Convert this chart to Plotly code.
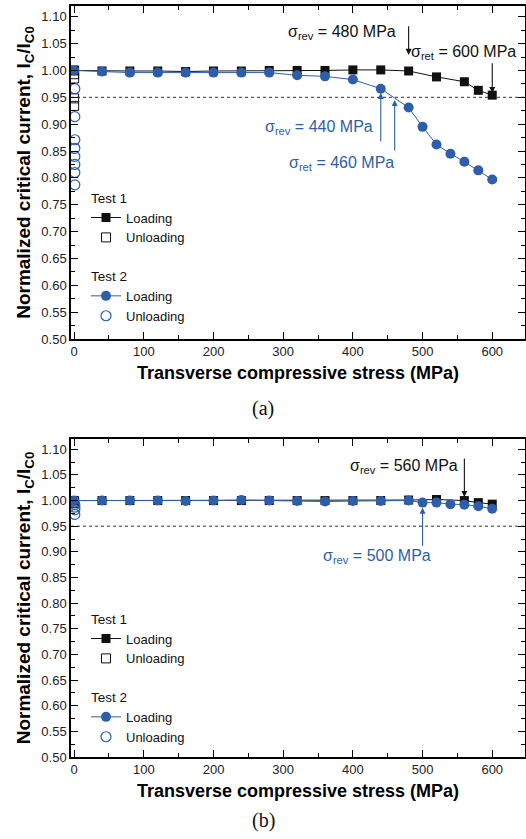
import plotly.graph_objects as go

# ---------------- data: panel (a) ----------------
a_t1_load_x = [0, 40, 80, 120, 160, 200, 240, 280, 320, 360, 400, 440, 480, 520, 560, 580, 600]
a_t1_load_y = [1.000, 0.999, 0.999, 0.999, 0.998, 0.999, 0.999, 1.000, 1.000, 1.000, 1.001, 1.001,
               0.999, 0.988, 0.979, 0.963, 0.954]
a_t1_unload_x = [0, 0, 0, 0, 0]
a_t1_unload_y = [1.000, 0.993, 0.985, 0.948, 0.934]

a_t2_load_x = [0, 40, 80, 120, 160, 200, 240, 280, 320, 360, 400, 440, 480, 500, 520, 540, 560, 580, 600]
a_t2_load_y = [1.000, 0.998, 0.996, 0.996, 0.996, 0.996, 0.996, 0.996, 0.991, 0.989, 0.983, 0.966,
               0.931, 0.895, 0.862, 0.845, 0.830, 0.814, 0.797]
a_t2_unload_x = [1, 1, 1, 1, 1, 1, 1, 1]
a_t2_unload_y = [0.966, 0.914, 0.871, 0.855, 0.840, 0.825, 0.810, 0.787]

# ---------------- data: panel (b) ----------------
b_t1_load_x = [0, 40, 80, 120, 160, 200, 240, 280, 320, 360, 400, 440, 480, 520, 560, 580, 600]
b_t1_load_y = [1.000, 1.000, 1.000, 1.000, 1.000, 1.000, 1.000, 1.000, 1.000, 1.000, 1.000, 1.000,
               1.001, 1.002, 1.000, 0.996, 0.993]
b_t1_unload_x = [0, 0]
b_t1_unload_y = [0.998, 0.995]

b_t2_load_x = [0, 40, 80, 120, 160, 200, 240, 280, 320, 360, 400, 440, 480, 500, 520, 540, 560, 580, 600]
b_t2_load_y = [1.000, 1.000, 1.000, 1.000, 0.999, 1.000, 1.001, 1.000, 0.999, 0.998, 0.999, 0.999,
               1.000, 0.996, 0.996, 0.993, 0.992, 0.989, 0.984]
b_t2_unload_x = [1, 1, 1, 1]
b_t2_unload_y = [0.992, 0.987, 0.982, 0.973]

# stress markers: (x, y at arrow head, y at arrow tail, kind, value, colour key)
markers_a = [
    (480, 1.029, 1.085, "rev", "480", "k"),
    (600, 0.958, 1.016, "ret", "600", "k"),
    (440, 0.958, 0.865, "rev", "440", "b"),
    (460, 0.945, 0.848, "ret", "460", "b"),
]
markers_b = [
    (560, 1.007, 1.085, "rev", "560", "k"),
    (500, 0.986, 0.909, "rev", "500", "b"),
]
# label anchors (x at right edge, y centre)
labels_a = [(465, 1.070), (637, 1.034), (432, 0.893), (462, 0.827)]
labels_b = [(554, 1.066), (515, 0.890)]

BLACK = "#111111"
BLUE = "#2E5EAA"
COL = {"k": BLACK, "b": BLUE}
FONT = "Liberation Sans, Arial, sans-serif"
W, H = 526, 839
ML, MR, MT, MB = 71, 1, 6, 82
PH = H - MT - MB          # plot-area height in px
PW = W - ML - MR          # plot-area width in px


def fy(py):
    """paper fraction for a pixel row"""
    return 1 - (py - MT) / PH


def fx(px):
    """paper fraction for a pixel column"""
    return (px - ML) / PW


fig = go.Figure()


def add_panel(ax, legend, t1x, t1y, t1ux, t1uy, t2x, t2y, t2ux, t2uy):
    xa = "x" if ax == 1 else f"x{ax}"
    ya = "y" if ax == 1 else f"y{ax}"
    common = dict(xaxis=xa, yaxis=ya, legend=legend)
    fig.add_trace(go.Scatter(x=t1x, y=t1y, mode="lines+markers", name="Loading",
                             legendgroup=f"t1{ax}", legendgrouptitle_text="Test 1",
                             line=dict(color=BLACK, width=1),
                             marker=dict(symbol="square", size=9, color=BLACK), **common))
    fig.add_trace(go.Scatter(x=t1ux, y=t1uy, mode="markers", name="Unloading",
                             legendgroup=f"t1{ax}",
                             marker=dict(symbol="square-open", size=9, color=BLACK,
                                         line=dict(width=1)), **common))
    fig.add_trace(go.Scatter(x=t2x, y=t2y, mode="lines+markers", name="Loading",
                             legendgroup=f"t2{ax}", legendgrouptitle_text="Test 2",
                             line=dict(color=BLUE, width=1),
                             marker=dict(symbol="circle", size=10, color=BLUE), **common))
    fig.add_trace(go.Scatter(x=t2ux, y=t2uy, mode="markers", name="Unloading",
                             legendgroup=f"t2{ax}",
                             marker=dict(symbol="circle-open", size=10, color=BLUE,
                                         line=dict(width=1.2)), **common))


add_panel(1, "legend", a_t1_load_x, a_t1_load_y, a_t1_unload_x, a_t1_unload_y,
          a_t2_load_x, a_t2_load_y, a_t2_unload_x, a_t2_unload_y)
add_panel(2, "legend2", b_t1_load_x, b_t1_load_y, b_t1_unload_x, b_t1_unload_y,
          b_t2_load_x, b_t2_load_y, b_t2_unload_x, b_t2_unload_y)

annotations = []
shapes = []
for ax, marks, labels in ((1, markers_a, labels_a), (2, markers_b, labels_b)):
    xr = "x" if ax == 1 else f"x{ax}"
    yr = "y" if ax == 1 else f"y{ax}"
    for (xv, yh, yt, kind, val, ck), (lx, ly) in zip(marks, labels):
        c = COL[ck]
        annotations.append(dict(x=xv, y=yh, ax=xv, ay=yt, xref=xr, yref=yr, axref=xr, ayref=yr,
                                text="", showarrow=True, arrowhead=2, arrowsize=1.1,
                                arrowwidth=1.1, arrowcolor=c))
        annotations.append(dict(x=lx, y=ly, xref=xr, yref=yr, xanchor="right", yanchor="middle",
                                text=f"σ<sub>{kind}</sub> = {val} MPa", showarrow=False,
                                font=dict(family=FONT, size=16, color=c)))
    # 95 % retention reference line
    shapes.append(dict(type="line", xref=f"{xr} domain", yref=yr, x0=0, x1=1, y0=0.95, y1=0.95,
                       line=dict(color="#333333", width=1, dash="dot"), layer="below"))

serif = dict(family="Liberation Serif, Times New Roman, serif", size=20, color="#111")
for cap, py in (("(a)", 408), ("(b)", 820)):
    annotations.append(dict(x=fx(263), y=fy(py), xref="paper", yref="paper", text=cap,
                            xanchor="center", yanchor="middle", showarrow=False, font=serif))

y_dom_a = [fy(339), 1]
y_dom_b = [0, fy(439)]

tickfont = dict(family=FONT, size=13, color="#222")
titlefont = dict(family=FONT, size=18, color="#000", weight="bold")


def xaxis(anchor):
    return dict(domain=[0, 1], anchor=anchor, range=[-4.5, 647], tickvals=[0, 100, 200, 300, 400, 500, 600],
                showline=True, linecolor="#000", linewidth=1.5, mirror="ticks", ticks="inside",
                ticklen=7, tickwidth=1.2, tickcolor="#000", tickfont=tickfont, showgrid=False,
                zeroline=False, automargin=False,
                minor=dict(dtick=50, tick0=0, ticks="inside", ticklen=4, tickwidth=1, tickcolor="#000"),
                title=dict(text="Transverse compressive stress (MPa)", font=titlefont, standoff=8))


def yaxis(anchor, dom):
    return dict(domain=dom, anchor=anchor, range=[0.5, 1.12], tick0=0.5, dtick=0.05, tickformat=".2f",
                showline=True, linecolor="#000", linewidth=1.5, mirror="ticks", ticks="inside",
                ticklen=7, tickwidth=1.2, tickcolor="#000", tickfont=tickfont, showgrid=False,
                zeroline=False, automargin=False,
                minor=dict(dtick=0.025, tick0=0.5, ticks="inside", ticklen=4, tickwidth=1, tickcolor="#000"),
                title=dict(text="Normalized critical current, I<sub>C</sub>/I<sub>C0</sub>",
                           font=dict(family=FONT, size=19, color="#000", weight="bold"), standoff=6))


legend_style = dict(font=dict(family=FONT, size=13, color="#111"), bgcolor="rgba(0,0,0,0)",
                    tracegroupgap=18, itemwidth=30, xanchor="left", yanchor="top",
                    grouptitlefont=dict(family=FONT, size=13.5, color="#111"))

fig.update_layout(
    width=W, height=H, margin=dict(l=ML, r=MR, t=MT, b=MB, pad=0, autoexpand=False),
    paper_bgcolor="white", plot_bgcolor="white",
    xaxis=xaxis("y"), yaxis=yaxis("x", y_dom_a),
    xaxis2=xaxis("y2"), yaxis2=yaxis("x2", y_dom_b),
    legend=dict(x=fx(86), y=fy(182), **legend_style),
    legend2=dict(x=fx(86), y=fy(603), **legend_style),
    annotations=annotations, shapes=shapes, showlegend=True,
)

fig.write_html("out.html")
